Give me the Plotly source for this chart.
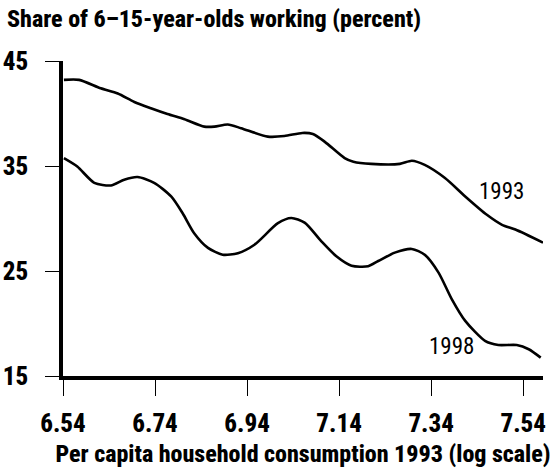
import plotly.graph_objects as go

# Per capita household consumption 1993 (log scale) and share of children working
x_1993 = [6.542, 6.575, 6.622, 6.659, 6.695, 6.731, 6.767, 6.804, 6.847, 6.869,
          6.898, 6.927, 6.985, 7.021, 7.060, 7.083, 7.109, 7.152, 7.171, 7.210,
          7.272, 7.298, 7.326, 7.370, 7.414, 7.461, 7.494, 7.523, 7.583]
y_1993 = [43.2, 43.2, 42.4, 41.9, 41.1, 40.5, 39.95, 39.45, 38.75, 38.75,
          38.95, 38.6, 37.8, 37.85, 38.15, 38.05, 37.3, 35.75, 35.4, 35.2,
          35.2, 35.5, 35.1, 33.85, 32.1, 30.35, 29.4, 28.95, 27.7]

x_1998 = [6.542, 6.571, 6.608, 6.644, 6.673, 6.702, 6.738, 6.775, 6.800, 6.825,
          6.855, 6.887, 6.920, 6.956, 7.007, 7.036, 7.065, 7.101, 7.134, 7.167,
          7.203, 7.225, 7.261, 7.298, 7.326, 7.356, 7.385, 7.414, 7.457, 7.486,
          7.526, 7.552, 7.578]
y_1998 = [35.75, 34.95, 33.4, 33.15, 33.7, 33.95, 33.4, 32.1, 30.5, 28.6,
          27.2, 26.55, 26.7, 27.5, 29.55, 30.05, 29.6, 27.85, 26.4, 25.5,
          25.45, 25.95, 26.75, 27.1, 26.55, 24.85, 22.3, 20.25, 18.35, 17.95,
          17.95, 17.55, 16.75]

x_ticks = [6.54, 6.74, 6.94, 7.14, 7.34, 7.54]
x_tick_labels = ["6.54", "6.74", "6.94", "7.14", "7.34", "7.54"]
y_ticks = [15, 25, 35, 45]

series_labels = ["1993", "1998"]
label_pos = [(7.492, 32.6), (7.385, 17.8)]

FONT = "Roboto Condensed, DejaVu Sans Condensed, sans-serif"
HEAVY = 800

fig = go.Figure()
for xs, ys, name in [(x_1993, y_1993, "1993"), (x_1998, y_1998, "1998")]:
    fig.add_trace(go.Scatter(
        x=xs, y=ys, mode="lines", name=name,
        line=dict(color="black", width=2.6, shape="spline", smoothing=0.7),
        showlegend=False, hoverinfo="skip",
    ))

for text, (lx, ly) in zip(series_labels, label_pos):
    fig.add_annotation(x=lx, y=ly, text=text, showarrow=False,
                       xanchor="center", yanchor="middle",
                       font=dict(family=FONT, size=23, color="black"))

fig.update_layout(
    template="none",
    width=551, height=468,
    margin=dict(l=63, r=8, t=61, b=92),
    paper_bgcolor="white", plot_bgcolor="white",
    title=dict(
        text="Share of 6–15-year-olds working (percent)",
        xref="container", yref="container",
        x=7 / 551, y=1 - 19 / 468, xanchor="left", yanchor="middle",
        font=dict(family=FONT, size=24, color="black", weight=HEAVY),
    ),
    font=dict(family=FONT, color="black"),
)

fig.update_xaxes(
    range=[6.54, 7.583], automargin=False,
    tickvals=x_ticks, ticktext=x_tick_labels,
    tickfont=dict(family=FONT, size=25, color="black", weight=HEAVY),
    ticks="outside", ticklen=16, tickwidth=1, tickcolor="black",
    ticklabelstandoff=6,
    showline=True, linewidth=4, linecolor="black",
    showgrid=False, zeroline=False,
    title=dict(text="Per capita household consumption 1993 (log scale)",
               font=dict(family=FONT, size=24, color="black", weight=HEAVY),
               standoff=10),
)
fig.update_yaxes(
    range=[15, 45], automargin=False,
    tickvals=y_ticks, ticktext=[str(v) for v in y_ticks],
    tickfont=dict(family=FONT, size=25, color="black", weight=HEAVY),
    ticks="outside", ticklen=14, tickwidth=1, tickcolor="black",
    ticklabelstandoff=12,
    showline=True, linewidth=3.5, linecolor="black",
    showgrid=False, zeroline=False,
)

fig.write_html("out.html")
